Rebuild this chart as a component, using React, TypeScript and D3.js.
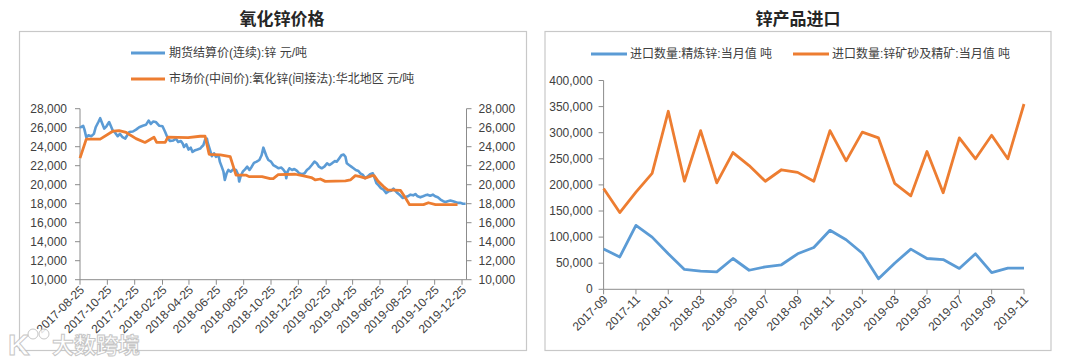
import React from "react";
import * as d3 from "d3";

// ---------- Left chart data ----------
const futuresSeries: [string, number][] = [
  ["2017-08-25",26000],["2017-09-01",26200],["2017-09-04",25800],["2017-09-08",25000],["2017-09-13",25200],["2017-09-19",25100],["2017-09-25",25350],["2017-09-29",26050],["2017-10-05",26600],["2017-10-09",27000],["2017-10-14",26400],["2017-10-18",25900],["2017-10-23",26150],["2017-10-29",26600],["2017-11-02",26150],["2017-11-06",25700],["2017-11-11",25500],["2017-11-17",25100],["2017-11-22",25350],["2017-11-28",25000],["2017-12-04",24850],["2017-12-07",25100],["2017-12-13",25550],["2017-12-21",25600],["2017-12-28",25800],["2018-01-04",26050],["2018-01-12",26200],["2018-01-19",26300],["2018-01-25",26750],["2018-01-30",26400],["2018-02-04",26650],["2018-02-10",26600],["2018-02-18",26200],["2018-02-25",26150],["2018-03-03",25550],["2018-03-09",24850],["2018-03-14",24600],["2018-03-21",24650],["2018-03-27",24850],["2018-04-01",24500],["2018-04-07",24600],["2018-04-11",24330],["2018-04-14",23970],["2018-04-19",24250],["2018-04-24",23700],["2018-04-29",23900],["2018-05-03",23450],["2018-05-09",23630],["2018-05-14",23700],["2018-05-20",23800],["2018-05-23",23970],["2018-05-27",24150],["2018-05-31",24740],["2018-06-04",24850],["2018-06-06",24400],["2018-06-11",23630],["2018-06-15",23000],["2018-06-20",23300],["2018-06-24",22940],["2018-06-30",23100],["2018-07-03",22400],["2018-07-07",21900],["2018-07-11",21370],["2018-07-14",20500],["2018-07-18",21200],["2018-07-22",21550],["2018-07-27",21370],["2018-08-02",21620],["2018-08-08",21550],["2018-08-13",21030],["2018-08-15",20330],["2018-08-18",20850],["2018-08-23",21370],["2018-08-28",21620],["2018-09-02",21900],["2018-09-07",21550],["2018-09-12",21900],["2018-09-17",22300],["2018-09-23",22430],["2018-09-29",22600],["2018-10-04",23100],["2018-10-08",23900],["2018-10-11",23500],["2018-10-15",23000],["2018-10-19",22600],["2018-10-25",22430],["2018-10-30",22070],["2018-11-05",21900],["2018-11-11",21730],["2018-11-17",21800],["2018-11-22",21550],["2018-11-26",21300],["2018-11-28",20680],["2018-12-01",21370],["2018-12-05",21730],["2018-12-11",21550],["2018-12-16",21650],["2018-12-22",21450],["2018-12-27",21200],["2019-01-02",21100],["2019-01-08",21200],["2019-01-13",21550],["2019-01-18",21730],["2019-01-24",22070],["2019-01-30",22430],["2019-02-04",22250],["2019-02-09",21900],["2019-02-15",21730],["2019-02-21",21900],["2019-02-27",22250],["2019-03-04",22070],["2019-03-10",22250],["2019-03-16",22480],["2019-03-21",22430],["2019-03-26",22770],["2019-03-31",23100],["2019-04-05",23180],["2019-04-09",22940],["2019-04-12",22250],["2019-04-17",22070],["2019-04-22",21900],["2019-04-27",21730],["2019-05-02",21550],["2019-05-08",21450],["2019-05-12",21200],["2019-05-18",21030],["2019-05-23",20680],["2019-05-28",20850],["2019-06-03",21100],["2019-06-09",21200],["2019-06-12",20850],["2019-06-17",20170],["2019-06-22",19920],["2019-06-27",19640],["2019-07-03",19470],["2019-07-09",19120],["2019-07-14",19300],["2019-07-20",19370],["2019-07-25",19580],["2019-07-29",19370],["2019-08-03",19120],["2019-08-09",18880],["2019-08-15",18600],["2019-08-20",18670],["2019-08-26",18780],["2019-09-01",18950],["2019-09-07",18880],["2019-09-12",19020],["2019-09-17",18780],["2019-09-23",18670],["2019-09-29",18780],["2019-10-04",18880],["2019-10-09",18950],["2019-10-15",18840],["2019-10-21",18950],["2019-10-26",18780],["2019-11-01",18670],["2019-11-07",18430],["2019-11-13",18260],["2019-11-18",18190],["2019-11-23",18260],["2019-11-29",18330],["2019-12-05",18260],["2019-12-10",18190],["2019-12-15",18090],["2019-12-21",18090],["2019-12-27",17990],["2020-01-02",17990]
];

const oxideMarketSeries: [string, number][] = [
  ["2017-08-25",22800],["2017-09-08",24800],["2017-10-09",24800],["2017-11-07",25650],["2017-11-20",25700],["2017-12-06",25500],["2017-12-28",24850],["2018-01-17",24450],["2018-02-06",25000],["2018-02-12",24450],["2018-03-03",24450],["2018-03-09",25000],["2018-04-23",24950],["2018-05-20",25100],["2018-05-31",25100],["2018-06-09",23200],["2018-07-04",23150],["2018-07-26",22950],["2018-08-08",21000],["2018-08-31",21000],["2018-09-06",20850],["2018-10-05",20850],["2018-10-23",20650],["2018-10-30",20650],["2018-11-10",21050],["2018-12-18",21100],["2019-01-03",20950],["2019-01-23",20750],["2019-02-01",20500],["2019-02-12",20600],["2019-02-23",20350],["2019-04-09",20400],["2019-04-20",20500],["2019-05-01",20950],["2019-05-12",20850],["2019-05-23",20700],["2019-06-08",20950],["2019-06-12",20950],["2019-06-21",20350],["2019-07-03",19800],["2019-07-12",19450],["2019-08-10",19400],["2019-08-21",18600],["2019-08-30",17900],["2019-09-30",17900],["2019-10-11",18100],["2019-10-27",17900],["2019-12-15",17900]
];

const leftXTicks = ["2017-08-25","2017-10-25","2017-12-25","2018-02-25","2018-04-25","2018-06-25","2018-08-25","2018-10-25","2018-12-25","2019-02-25","2019-04-25","2019-06-25","2019-08-25","2019-10-25","2019-12-25"];
const leftYTicks = [10000,12000,14000,16000,18000,20000,22000,24000,26000,28000];
const leftDateDomain = ["2017-08-25","2020-01-04"];
const leftLegend = ["期货结算价(连续):锌 元/吨","市场价(中间价):氧化锌(间接法):华北地区 元/吨"];

// ---------- Right chart data ----------
const importMonths = ["2017-09","2017-10","2017-11","2017-12","2018-01","2018-02","2018-03","2018-04","2018-05","2018-06","2018-07","2018-08","2018-09","2018-10","2018-11","2018-12","2019-01","2019-02","2019-03","2019-04","2019-05","2019-06","2019-07","2019-08","2019-09","2019-10","2019-11"];
const refinedZincImports = [77000,62000,122500,100000,68000,38000,35000,33500,59000,36500,43000,47000,68000,80000,113000,95000,69000,20000,50000,77000,59000,57000,40000,68000,32000,40500,40500];
const zincOreImports = [193000,147000,186000,222000,341000,207000,304000,204000,262000,237000,207000,229000,224000,207000,304000,246000,301000,290000,203000,179000,264000,185000,290000,250000,295000,250000,355000];
const rightYTicks = [0,50000,100000,150000,200000,250000,300000,350000,400000];
const rightLegend = ["进口数量:精炼锌:当月值 吨","进口数量:锌矿砂及精矿:当月值 吨"];

const BLUE = "#5B9BD5";
const ORANGE = "#ED7D31";
const AXIS = "#8C8C8C";
const LABEL = "#404040";
const FONT = "'Liberation Sans', Arial, 'Noto Sans CJK SC', sans-serif";
const CJK = "'Noto Sans CJK SC', 'Liberation Sans', sans-serif";

const fmt = d3.format(",");
const parse = d3.timeParse("%Y-%m-%d");

function LeftChart() {
  const x0 = 80, x1 = 466.5, yTop = 108.7, yBot = 279.7;
  const x = d3.scaleTime().domain(leftDateDomain.map((d) => parse(d)!)).range([x0, x1]);
  const y = d3.scaleLinear().domain([10000, 28000]).range([yBot, yTop]);
  const line = d3.line<[string, number]>().x((d) => x(parse(d[0])!)).y((d) => y(d[1]));
  return (
    <g>
      <rect x={19.5} y={31.5} width={507} height={319} fill="#fff" stroke="#C8C8C8" strokeWidth={1.2} />
      <text x={282} y={17} textAnchor="middle" dominantBaseline="central" fontFamily={CJK} fontWeight={700} fontSize={17} fill="#262626">氧化锌价格</text>
      {leftLegend.map((t, i) => (
        <g key={t}>
          <line x1={131} x2={165} y1={53 + i * 26} y2={53 + i * 26} stroke={i === 0 ? BLUE : ORANGE} strokeWidth={3} />
          <text x={169} y={53 + i * 26} dominantBaseline="central" fontFamily={FONT} fontSize={12} fill={LABEL}>{t}</text>
        </g>
      ))}
      {/* axes */}
      <line x1={x0} x2={x0} y1={yTop} y2={yBot} stroke={AXIS} />
      <line x1={x1} x2={x1} y1={yTop} y2={yBot} stroke={AXIS} />
      <line x1={x0} x2={x1} y1={yBot} y2={yBot} stroke={AXIS} />
      {leftYTicks.map((v) => (
        <g key={v}>
          <line x1={x0 - 5} x2={x0} y1={y(v)} y2={y(v)} stroke={AXIS} />
          <line x1={x1} x2={x1 + 5} y1={y(v)} y2={y(v)} stroke={AXIS} />
          <text x={x0 - 13} y={y(v)} textAnchor="end" dominantBaseline="central" fontFamily={FONT} fontSize={12} fill={LABEL}>{fmt(v)}</text>
          <text x={x1 + 12} y={y(v)} textAnchor="start" dominantBaseline="central" fontFamily={FONT} fontSize={12} fill={LABEL}>{fmt(v)}</text>
        </g>
      ))}
      {leftXTicks.map((t) => {
        const px = x(parse(t)!);
        return (
          <g key={t}>
            <line x1={px} x2={px} y1={yBot} y2={yBot + 5} stroke={AXIS} />
            <text transform={`translate(${px + 2},${yBot + 8}) rotate(-45)`} textAnchor="end" dy="0.35em" fontFamily={FONT} fontSize={12} fill={LABEL}>{t}</text>
          </g>
        );
      })}
      <path d={line(futuresSeries) || ""} fill="none" stroke={BLUE} strokeWidth={2.6} strokeLinejoin="round" />
      <path d={line(oxideMarketSeries) || ""} fill="none" stroke={ORANGE} strokeWidth={2.8} strokeLinejoin="round" />
      {/* watermark */}
      <g opacity={0.85}>
        <text x={8} y={355} fontFamily={FONT} fontSize={30} fontWeight={700} fill="#fff" stroke="#BDBDBD" strokeWidth={1}>K</text>
        <circle cx={33} cy={334} r={5} fill="#fff" stroke="#BDBDBD" />
        <circle cx={44} cy={334} r={5} fill="#fff" stroke="#BDBDBD" />
        <text x={52} y={353} fontFamily={CJK} fontSize={22} fontWeight={700} fill="#fff" stroke="#BDBDBD" strokeWidth={1}>大数跨境</text>
      </g>
    </g>
  );
}

function RightChart() {
  const x0 = 603.6, x1 = 1024, yTop = 80.5, yBot = 289.3;
  const x = d3.scalePoint<string>().domain(importMonths).range([x0, x1]);
  const y = d3.scaleLinear().domain([0, 400000]).range([yBot, yTop]);
  const line = d3.line<number>().x((_, i) => x(importMonths[i])!).y((d) => y(d));
  const labelled = importMonths.filter((_, i) => i % 2 === 0);
  return (
    <g>
      <rect x={545} y={31.5} width={506} height={319} fill="#fff" stroke="#C8C8C8" strokeWidth={1.2} />
      <text x={798} y={17} textAnchor="middle" dominantBaseline="central" fontFamily={CJK} fontWeight={700} fontSize={17} fill="#262626">锌产品进口</text>
      <line x1={591} x2={627} y1={54} y2={54} stroke={BLUE} strokeWidth={3} />
      <text x={630} y={54} dominantBaseline="central" fontFamily={FONT} fontSize={12} fill={LABEL}>{rightLegend[0]}</text>
      <line x1={793} x2={829} y1={54} y2={54} stroke={ORANGE} strokeWidth={3} />
      <text x={832} y={54} dominantBaseline="central" fontFamily={FONT} fontSize={12} fill={LABEL}>{rightLegend[1]}</text>
      <line x1={x0} x2={x0} y1={yTop} y2={yBot} stroke={AXIS} />
      <line x1={x0} x2={x1} y1={yBot} y2={yBot} stroke={AXIS} />
      {rightYTicks.map((v) => (
        <g key={v}>
          <line x1={x0 - 5} x2={x0} y1={y(v)} y2={y(v)} stroke={AXIS} />
          <text x={x0 - 11} y={y(v)} textAnchor="end" dominantBaseline="central" fontFamily={FONT} fontSize={12} fill={LABEL}>{fmt(v)}</text>
        </g>
      ))}
      {labelled.map((m) => {
        const px = x(m)!;
        return (
          <g key={m}>
            <line x1={px} x2={px} y1={yBot} y2={yBot + 5} stroke={AXIS} />
            <text transform={`translate(${px + 2},${yBot + 8}) rotate(-45)`} textAnchor="end" dy="0.35em" fontFamily={FONT} fontSize={12} fill={LABEL}>{m}</text>
          </g>
        );
      })}
      <path d={line(refinedZincImports) || ""} fill="none" stroke={BLUE} strokeWidth={2.8} strokeLinejoin="round" />
      <path d={line(zincOreImports) || ""} fill="none" stroke={ORANGE} strokeWidth={2.8} strokeLinejoin="round" />
    </g>
  );
}

export default function App() {
  return (
    <svg width={1080} height={363} style={{ position: "absolute", left: 0, top: 0, background: "#fff" }}>
      <rect x={0} y={0} width={1080} height={363} fill="#fff" />
      <LeftChart />
      <RightChart />
    </svg>
  );
}
